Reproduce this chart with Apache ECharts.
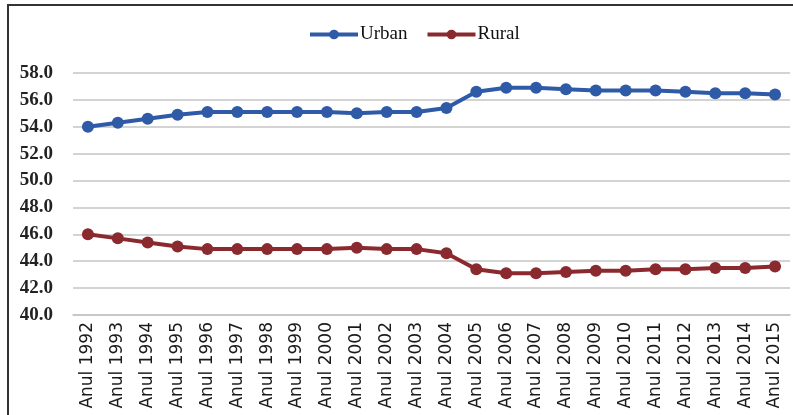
<!DOCTYPE html>
<html>
<head>
<meta charset="utf-8">
<script src="https://cdn.jsdelivr.net/npm/echarts@6/dist/echarts.min.js"></script>
<style>
    html, body { margin: 0; padding: 0; background: #fff; }
    #chart { width: 793px; height: 415px; }
</style>
</head>
<body>
<div id="chart"></div>
<script>
    // ani
    const years = ['Anul 1992','Anul 1993','Anul 1994','Anul 1995','Anul 1996','Anul 1997','Anul 1998','Anul 1999',
        'Anul 2000','Anul 2001','Anul 2002','Anul 2003','Anul 2004','Anul 2005','Anul 2006','Anul 2007',
        'Anul 2008','Anul 2009','Anul 2010','Anul 2011','Anul 2012','Anul 2013','Anul 2014','Anul 2015'];
    const urban = [54.0, 54.3, 54.6, 54.9, 55.1, 55.1, 55.1, 55.1, 55.1, 55.0, 55.1, 55.1,
        55.4, 56.6, 56.9, 56.9, 56.8, 56.7, 56.7, 56.7, 56.6, 56.5, 56.5, 56.4];
    const rural = [46.0, 45.7, 45.4, 45.1, 44.9, 44.9, 44.9, 44.9, 44.9, 45.0, 44.9, 44.9,
        44.6, 43.4, 43.1, 43.1, 43.2, 43.3, 43.3, 43.4, 43.4, 43.5, 43.5, 43.6];

    const gridColor = '#c4c4c4';

    function lineSeries(name, data, color) {
        return {
            name: name,
            type: 'line',
            data: data,
            symbol: 'circle',
            symbolSize: 12,
            lineStyle: { width: 4, color: color },
            itemStyle: { color: color },
            animation: false
        };
    }

    const chart = echarts.init(document.getElementById('chart'));
    chart.setOption({
        backgroundColor: '#fff',
        graphic: [{
            type: 'rect',
            shape: { x: 8, y: 5, width: 820, height: 440 },
            style: { fill: 'none', stroke: '#333', lineWidth: 2 },
            silent: true
        }],
        legend: {
            data: ['Urban', 'Rural'],
            left: 303,
            top: 20,
            itemWidth: 48,
            itemHeight: 12,
            itemGap: 18,
            lineStyle: { width: 4 },
            textStyle: { fontFamily: 'Liberation Serif', fontSize: 19, color: '#111', padding: [0, 0, 0, -3] }
        },
        grid: { left: 73, right: 3, top: 73, bottom: 100 },
        xAxis: {
            type: 'category',
            data: years,
            axisLine: { lineStyle: { color: gridColor, width: 1.5 } },
            axisTick: { show: false },
            axisLabel: {
                rotate: 90,
                interval: 0,
                margin: 7,
                fontFamily: 'DejaVu Sans',
                fontSize: 17,
                color: '#1a1a1a'
            }
        },
        yAxis: {
            type: 'value',
            min: 40,
            max: 58,
            interval: 2,
            axisLine: { show: false },
            axisTick: { show: false },
            splitLine: { lineStyle: { color: gridColor, width: 1.5 } },
            axisLabel: {
                margin: 20,
                fontFamily: 'Liberation Serif',
                fontWeight: 'bold',
                fontSize: 19,
                color: '#222',
                formatter: v => v.toFixed(1)
            }
        },
        series: [
            lineSeries('Urban', urban, '#2E5AA7'),
            lineSeries('Rural', rural, '#8B2A2E')
        ]
    });
</script>
</body>
</html>
